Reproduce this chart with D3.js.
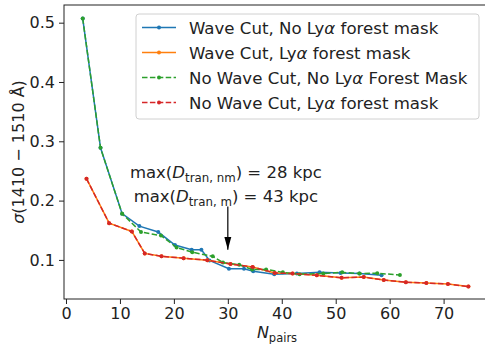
<!DOCTYPE html>
<html>
<head>
<meta charset="utf-8">
<script src="https://cdn.jsdelivr.net/npm/d3@7"></script>
<style>
  html, body { margin: 0; padding: 0; background: #fff; }
  svg { display: block; font-family: "DejaVu Sans", sans-serif; }
</style>
</head>
<body>
<svg id="chart" width="485" height="344"></svg>
<script>
// Scatter of sigma(1410-1510 A) against number of pairs, four masking variants
const waveCutNoMaskX = [3.1, 6.4, 10.4, 13.6, 17.1, 20.2, 23.3, 25.1, 26.6, 30.2, 33.0, 34.7, 38.6, 42.8, 47.0, 50.9, 54.4, 58.5];
const waveCutNoMaskY = [0.507, 0.289, 0.178, 0.157, 0.147, 0.125, 0.117, 0.117, 0.099, 0.085, 0.085, 0.081, 0.076, 0.077, 0.079, 0.078, 0.077, 0.074];

const waveCutMaskX = [3.8, 8.0, 12.2, 14.6, 17.7, 21.8, 26.2, 30.5, 34.6, 38.7, 42.0, 46.5, 51.1, 55.2, 58.9, 63.0, 66.8, 70.8, 74.6];
const waveCutMaskY = [0.237, 0.162, 0.148, 0.111, 0.106, 0.103, 0.0995, 0.093, 0.088, 0.078, 0.077, 0.074, 0.070, 0.071, 0.066, 0.0624, 0.061, 0.0595, 0.055];

const noCutNoMaskX = [3.1, 6.4, 10.4, 13.9, 17.6, 20.5, 23.4, 27.2, 29.1, 32.1, 34.5, 37.1, 40.2, 43.3, 47.7, 51.2, 54.4, 57.7, 61.9];
const noCutNoMaskY = [0.507, 0.289, 0.178, 0.147, 0.141, 0.121, 0.113, 0.106, 0.0955, 0.092, 0.084, 0.084, 0.079, 0.076, 0.077, 0.079, 0.077, 0.0776, 0.0745];

const noCutMaskX = [3.8, 8.0, 12.2, 14.6, 17.7, 21.8, 26.2, 30.5, 34.6, 38.7, 42.0, 46.5, 51.1, 55.2, 58.9, 63.0, 66.8, 70.8, 74.6];
const noCutMaskY = [0.237, 0.162, 0.148, 0.111, 0.106, 0.103, 0.0995, 0.093, 0.088, 0.078, 0.077, 0.074, 0.070, 0.071, 0.066, 0.0624, 0.061, 0.0595, 0.055];

const xTicks = [0, 10, 20, 30, 40, 50, 60, 70];
const yTicks = [0.1, 0.2, 0.3, 0.4, 0.5];

const seriesNames = [
  ["Wave Cut, No Ly", "α", " forest mask"],
  ["Wave Cut, Ly", "α", " forest mask"],
  ["No Wave Cut, No Ly", "α", " Forest Mask"],
  ["No Wave Cut, Ly", "α", " forest mask"]
];
const seriesColors = ["#1f77b4", "#ff7f0e", "#2ca02c", "#d62728"];
const seriesDashed = [false, false, true, true];

const annotX = 30, annotTipY = 0.117, annotTailY = 0.19;

const series = [
  [waveCutNoMaskX, waveCutNoMaskY],
  [waveCutMaskX, waveCutMaskY],
  [noCutNoMaskX, noCutNoMaskY],
  [noCutMaskX, noCutMaskY]
].map(([xs, ys], i) => ({
  points: xs.map((x, j) => ({x, y: ys[j]})),
  color: seriesColors[i],
  dashed: seriesDashed[i],
  name: seriesNames[i]
}));

const svg = d3.select("#chart");
const plotLeft = 64, plotRight = 490, plotTop = 5, plotBottom = 299;

const x = d3.scaleLinear().domain([-0.37, 78.6]).range([plotLeft, plotRight]);
const y = d3.scaleLinear().domain([0.0341, 0.5298]).range([plotBottom, plotTop]);

// Lines and markers
const line = d3.line().x(d => x(d.x)).y(d => y(d.y));
const plot = svg.append("g");
series.forEach(s => {
  plot.append("path")
    .datum(s.points)
    .attr("fill", "none")
    .attr("stroke", s.color)
    .attr("stroke-width", 1.5)
    .attr("stroke-dasharray", s.dashed ? "5.5,2.4" : null)
    .attr("d", line);
  plot.selectAll(null)
    .data(s.points)
    .enter().append("circle")
    .attr("cx", d => x(d.x))
    .attr("cy", d => y(d.y))
    .attr("r", 2)
    .attr("fill", s.color);
});

// Axes
const xAxis = d3.axisBottom(x).tickValues(xTicks).tickSize(5).tickPadding(4).tickFormat(d3.format("d"));
const yAxis = d3.axisLeft(y).tickValues(yTicks).tickSize(5).tickPadding(4).tickFormat(d3.format(".1f"));

const gx = svg.append("g").attr("transform", `translate(0,${plotBottom})`).call(xAxis);
const gy = svg.append("g").attr("transform", `translate(${plotLeft},0)`).call(yAxis);
[gx, gy].forEach(g => {
  g.select(".domain").remove();
  g.selectAll(".tick line").attr("stroke", "#222").attr("stroke-width", 1);
  g.selectAll(".tick text").attr("fill", "#222").style("font-size", "16px").style("font-family", "DejaVu Sans");
});

// Frame
svg.append("rect")
  .attr("x", plotLeft).attr("y", plotTop)
  .attr("width", plotRight - plotLeft).attr("height", plotBottom - plotTop)
  .attr("fill", "none").attr("stroke", "#222").attr("stroke-width", 1);

// Axis labels
const xl = svg.append("text")
  .attr("x", (plotLeft + plotRight) / 2).attr("y", 338)
  .attr("text-anchor", "middle")
  .style("font-size", "16px").attr("fill", "#222");
xl.append("tspan").style("font-style", "italic").text("N");
xl.append("tspan").attr("dy", 4).style("font-size", "11.5px").text("pairs");

const yl = svg.append("text")
  .attr("transform", `translate(24,${(plotTop + plotBottom) / 2}) rotate(-90)`)
  .attr("text-anchor", "middle")
  .style("font-size", "16px").attr("fill", "#222");
yl.append("tspan").style("font-style", "italic").text("σ");
yl.append("tspan").text("(1410 − 1510 Å)");

// Annotation text
const ann = svg.append("g").style("font-size", "16.5px").attr("fill", "#222");
const ax = x(annotX) - 2;
function annLine(yPix, sub, val) {
  const t = ann.append("text").attr("x", ax).attr("y", yPix).attr("text-anchor", "middle");
  t.append("tspan").text("max(");
  t.append("tspan").style("font-style", "italic").text("D");
  t.append("tspan").attr("dy", 4).style("font-size", "11.8px").text("tran, " + sub);
  t.append("tspan").attr("dy", -4).text(") = " + val + " kpc");
}
annLine(178, "nm", 28);
annLine(202, "m", 43);

// Arrow
svg.append("defs").append("marker")
  .attr("id", "arrowhead").attr("viewBox", "0 0 13 8")
  .attr("refX", 13).attr("refY", 4)
  .attr("markerWidth", 13).attr("markerHeight", 8)
  .attr("markerUnits", "userSpaceOnUse")
  .attr("orient", "auto")
  .append("path").attr("d", "M0,0.5 L13,4 L0,7.5 Z").attr("fill", "#000");
svg.append("line")
  .attr("x1", x(annotX)).attr("y1", y(annotTailY))
  .attr("x2", x(annotX)).attr("y2", y(annotTipY))
  .attr("stroke", "#000").attr("stroke-width", 1.2)
  .attr("marker-end", "url(#arrowhead)");

// Legend
const legend = svg.append("g");
legend.append("rect")
  .attr("x", 136).attr("y", 14).attr("width", 343).attr("height", 105)
  .attr("rx", 3).attr("fill", "#fff").attr("fill-opacity", 0.8)
  .attr("stroke", "#d0d0d0").attr("stroke-width", 1);
series.forEach((s, i) => {
  const cy = 27.5 + i * 25;
  legend.append("line")
    .attr("x1", 142).attr("x2", 176).attr("y1", cy).attr("y2", cy)
    .attr("stroke", s.color).attr("stroke-width", 1.5)
    .attr("stroke-dasharray", s.dashed ? "5.5,2.4" : null);
  legend.append("circle").attr("cx", 159).attr("cy", cy).attr("r", 2).attr("fill", s.color);
  const t = legend.append("text").attr("x", 189).attr("y", cy + 6)
    .style("font-size", "16.6px").attr("fill", "#222");
  t.append("tspan").text(s.name[0]);
  t.append("tspan").style("font-style", "italic").text(s.name[1]);
  t.append("tspan").text(s.name[2]);
});
</script>
</body>
</html>
